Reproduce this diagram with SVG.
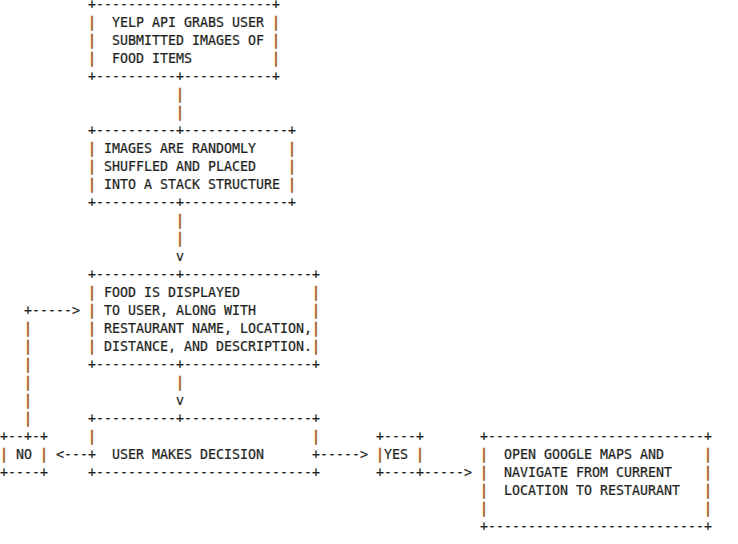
<svg xmlns="http://www.w3.org/2000/svg" width="738" height="544" viewBox="0 0 738 544">
<style>
text{font-family:"DejaVu Sans Mono","Liberation Mono",monospace;font-size:13.29px;fill:#1e1e1e;stroke:#1e1e1e;stroke-width:0.2}
.p{fill:#a8611c;stroke:#a8611c;stroke-width:0.7}
</style>
<rect width="738" height="544" fill="#ffffff"/>
<g id="connectors">
<text class="p" x="176" y="99.3">|</text>
<text class="p" x="176" y="117.3">|</text>
<text class="p" x="176" y="225.3">|</text>
<text class="p" x="176" y="243.3">|</text>
<text x="176" y="261.3">v</text>
<text class="p" x="176" y="387.3">|</text>
<text x="176" y="405.3">v</text>
<text x="56" y="459.3">&lt;---</text>
<text x="320" y="459.3">-----&gt;</text>
<text x="424" y="477.3">-----&gt;</text>
<text x="24" y="315.3">+-----&gt;</text>
<text class="p" x="24" y="333.3">|</text>
<text class="p" x="24" y="351.3">|</text>
<text class="p" x="24" y="369.3">|</text>
<text class="p" x="24" y="387.3">|</text>
<text class="p" x="24" y="405.3">|</text>
<text class="p" x="24" y="423.3">|</text>
</g>
<g id="node-yelp">
<text x="88" y="9.3">+----------------------+</text>
<text class="p" x="88 272" y="27.3">||</text>
<text class="p" x="88 272" y="45.3">||</text>
<text class="p" x="88 272" y="63.3">||</text>
<text x="112" y="27.3">YELP API GRABS USER</text>
<text x="112" y="45.3">SUBMITTED IMAGES OF</text>
<text x="112" y="63.3">FOOD ITEMS</text>
<text x="88" y="81.3">+----------+-----------+</text>
</g>
<g id="node-shuffle">
<text x="88" y="135.3">+----------+-------------+</text>
<text class="p" x="88 288" y="153.3">||</text>
<text class="p" x="88 288" y="171.3">||</text>
<text class="p" x="88 288" y="189.3">||</text>
<text x="104" y="153.3">IMAGES ARE RANDOMLY</text>
<text x="104" y="171.3">SHUFFLED AND PLACED</text>
<text x="104" y="189.3">INTO A STACK STRUCTURE</text>
<text x="88" y="207.3">+----------+-------------+</text>
</g>
<g id="node-display">
<text x="88" y="279.3">+----------+----------------+</text>
<text class="p" x="88 312" y="297.3">||</text>
<text class="p" x="88 312" y="315.3">||</text>
<text class="p" x="88 312" y="333.3">||</text>
<text class="p" x="88 312" y="351.3">||</text>
<text x="104" y="297.3">FOOD IS DISPLAYED</text>
<text x="104" y="315.3">TO USER, ALONG WITH</text>
<text x="104" y="333.3">RESTAURANT NAME, LOCATION,</text>
<text x="104" y="351.3">DISTANCE, AND DESCRIPTION.</text>
<text x="88" y="369.3">+----------+----------------+</text>
</g>
<g id="node-decision">
<text x="88" y="423.3">+----------+----------------+</text>
<text class="p" x="88 312" y="441.3">||</text>
<text x="88" y="459.3">+</text>
<text x="312" y="459.3">+</text>
<text x="112" y="459.3">USER MAKES DECISION</text>
<text x="88" y="477.3">+---------------------------+</text>
</g>
<g id="node-no">
<text x="0" y="441.3">+--+-+</text>
<text class="p" x="0 40" y="459.3">||</text>
<text x="16" y="459.3">NO</text>
<text x="0" y="477.3">+----+</text>
</g>
<g id="node-yes">
<text x="376" y="441.3">+----+</text>
<text class="p" x="376 416" y="459.3">||</text>
<text x="384" y="459.3">YES</text>
<text x="376" y="477.3">+----+</text>
</g>
<g id="node-maps">
<text x="480" y="441.3">+---------------------------+</text>
<text class="p" x="480 704" y="459.3">||</text>
<text class="p" x="480 704" y="477.3">||</text>
<text class="p" x="480 704" y="495.3">||</text>
<text class="p" x="480 704" y="513.3">||</text>
<text x="504" y="459.3">OPEN GOOGLE MAPS AND</text>
<text x="504" y="477.3">NAVIGATE FROM CURRENT</text>
<text x="504" y="495.3">LOCATION TO RESTAURANT</text>
<text x="480" y="531.3">+---------------------------+</text>
</g>
</svg>
